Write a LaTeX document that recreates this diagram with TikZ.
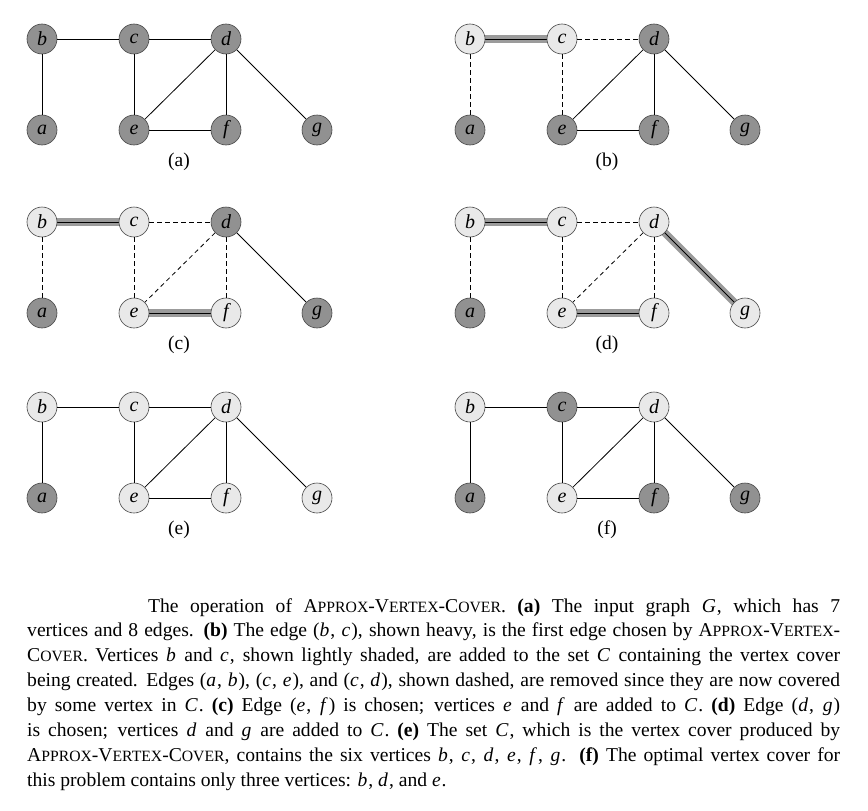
\documentclass[tikz,border=0pt]{standalone}
\usepackage{fontspec}
\setmainfont{Liberation Serif}
\usetikzlibrary{backgrounds}
\definecolor{dkfill}{RGB}{145,145,145}
\definecolor{ltfill}{RGB}{233,233,233}
\definecolor{vborder}{RGB}{70,70,70}
\definecolor{heavyband}{RGB}{155,155,155}
\newcommand\smc[1]{{\fontsize{15.7}{15.7}\selectfont #1}}
\newcommand\AVC{A\smc{PPROX}-V\smc{ERTEX}-C\smc{OVER}}
\newcommand\mi[1]{\textit{#1}\kern1pt\relax}
\newcommand\gnodes[8]{%
  \node[#1] (a) at (0,91) {a};
  \node[#2] (b) at (0,0) {b};
  \node[#3] (c) at (92,0) {c};
  \node[#4] (d) at (184,0) {d};
  \node[#5] (e) at (92,91) {e};
  \node[#6] (f) at (184,91) {f};
  \node[#7] (g) at (275,91) {g};
  \node[plabel] (lab) at (137,123) {#8};
}
\tikzset{
  vtx/.style={circle, draw=vborder, line width=0.6pt, minimum size=30pt, inner sep=0pt,
    font=\fontsize{20}{20}\selectfont\itshape},
  dkv/.style={vtx, fill=dkfill},
  ltv/.style={vtx, fill=ltfill},
  plabel/.style={font=\fontsize{19.5}{19.5}\selectfont, inner sep=0pt},
  edge/.style={draw=black, line width=0.8pt},
  rem/.style={draw=black, line width=0.8pt, dash pattern=on 4.5pt off 3.5pt},
  heavy/.style={draw=heavyband, line width=7.5pt, postaction={draw=black, line width=0.8pt}},
}
\begin{document}
\begin{tikzpicture}[x=1pt, y=-1pt]
\useasboundingbox (0,0) rectangle (868,811);

% (a)
\begin{scope}[shift={(42,39)}, name prefix=A-]
  \gnodes{dkv}{dkv}{dkv}{dkv}{dkv}{dkv}{dkv}{(a)}
  \draw[edge] (a) -- (b);
  \draw[edge] (b) -- (c);
  \draw[edge] (c) -- (d);
  \draw[edge] (c) -- (e);
  \draw[edge] (d) -- (e);
  \draw[edge] (d) -- (f);
  \draw[edge] (e) -- (f);
  \draw[edge] (d) -- (g);
\end{scope}

% (b)
\begin{scope}[shift={(470,39)}, name prefix=B-]
  \gnodes{dkv}{ltv}{ltv}{dkv}{dkv}{dkv}{dkv}{(b)}
  \begin{pgfonlayer}{background}
    \draw[heavy] (b.center) -- (c.center);
  \end{pgfonlayer}
  \draw[rem] (b) -- (a);
  \draw[rem] (c) -- (d);
  \draw[rem] (c) -- (e);
  \draw[edge] (d) -- (e);
  \draw[edge] (d) -- (f);
  \draw[edge] (e) -- (f);
  \draw[edge] (d) -- (g);
\end{scope}

% (c)
\begin{scope}[shift={(42,222)}, name prefix=C-]
  \gnodes{dkv}{ltv}{ltv}{dkv}{ltv}{ltv}{dkv}{(c)}
  \begin{pgfonlayer}{background}
    \draw[heavy] (b.center) -- (c.center);
    \draw[heavy] (e.center) -- (f.center);
  \end{pgfonlayer}
  \draw[rem] (b) -- (a);
  \draw[rem] (c) -- (d);
  \draw[rem] (c) -- (e);
  \draw[rem] (d) -- (e);
  \draw[rem] (d) -- (f);
  \draw[edge] (d) -- (g);
\end{scope}

% (d)
\begin{scope}[shift={(470,222)}, name prefix=D-]
  \gnodes{dkv}{ltv}{ltv}{ltv}{ltv}{ltv}{ltv}{(d)}
  \begin{pgfonlayer}{background}
    \draw[heavy] (b.center) -- (c.center);
    \draw[heavy] (e.center) -- (f.center);
    \draw[heavy] (d.center) -- (g.center);
  \end{pgfonlayer}
  \draw[rem] (b) -- (a);
  \draw[rem] (c) -- (d);
  \draw[rem] (c) -- (e);
  \draw[rem] (d) -- (e);
  \draw[rem] (d) -- (f);
\end{scope}

% (e)
\begin{scope}[shift={(42,407)}, name prefix=E-]
  \gnodes{dkv}{ltv}{ltv}{ltv}{ltv}{ltv}{ltv}{(e)}
  \draw[edge] (a) -- (b);
  \draw[edge] (b) -- (c);
  \draw[edge] (c) -- (d);
  \draw[edge] (c) -- (e);
  \draw[edge] (d) -- (e);
  \draw[edge] (d) -- (f);
  \draw[edge] (e) -- (f);
  \draw[edge] (d) -- (g);
\end{scope}

% (f)
\begin{scope}[shift={(470,407)}, name prefix=F-]
  \gnodes{dkv}{ltv}{dkv}{ltv}{ltv}{dkv}{dkv}{(f)}
  \draw[edge] (a) -- (b);
  \draw[edge] (b) -- (c);
  \draw[edge] (c) -- (d);
  \draw[edge] (c) -- (e);
  \draw[edge] (d) -- (e);
  \draw[edge] (d) -- (f);
  \draw[edge] (e) -- (f);
  \draw[edge] (d) -- (g);
\end{scope}

% caption
\node[anchor=north west, inner sep=0pt, align=left,
      font=\fontsize{19.6}{24.9}\selectfont] (caption) at (27,598) {%
\makebox[813pt][s]{\hspace{121pt}The operation of \AVC. \textbf{(a)} The input graph \mi{G}, which has 7}\\
\makebox[813pt][s]{vertices and 8 edges. \textbf{(b)} The edge (\mi{b}, \mi{c}), shown heavy, is the first edge chosen by A\smc{PPROX}-V\smc{ERTEX}-}\\
\makebox[813pt][s]{C\smc{OVER}. Vertices \mi{b} and \mi{c}, shown lightly shaded, are added to the set \mi{C} containing the vertex cover}\\
\makebox[813pt][s]{being created. Edges (\mi{a}, \mi{b}), (\mi{c}, \mi{e}), and (\mi{c}, \mi{d}), shown dashed, are removed since they are now covered}\\
\makebox[813pt][s]{by some vertex in \mi{C}. \textbf{(c)} Edge (\mi{e}, \mi{f}\/) is chosen; vertices \mi{e} and \mi{f} are added to \mi{C}. \textbf{(d)} Edge (\mi{d}, \mi{g})}\\
\makebox[813pt][s]{is chosen; vertices \mi{d} and \mi{g} are added to \mi{C}. \textbf{(e)} The set \mi{C}, which is the vertex cover produced by}\\
\makebox[813pt][s]{\AVC, contains the six vertices \mi{b}, \mi{c}, \mi{d}, \mi{e}, \mi{f}, \mi{g}. \textbf{(f)} The optimal vertex cover for}\\
this problem contains only three vertices: \mi{b}, \mi{d}, and \mi{e}.};
\end{tikzpicture}
\end{document}
